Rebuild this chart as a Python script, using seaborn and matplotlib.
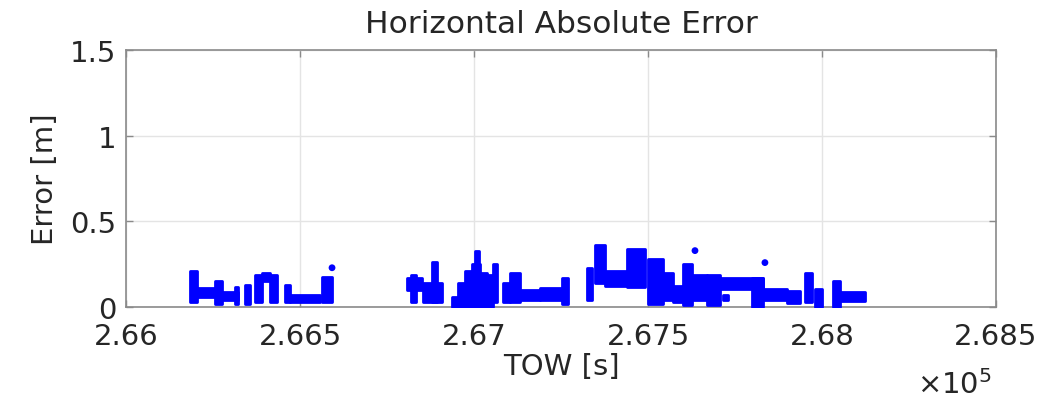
import matplotlib
matplotlib.use("Agg")
import matplotlib.pyplot as plt
import seaborn as sns

# ---- data (TOW [s], horizontal error [m]) ----
# dense runs of epochs summarised as blocks: start TOW, end TOW, min error, max error
blk_t0 = [266184, 266204, 266256, 266276, 266313, 266342, 266371, 266391, 266414,
          266457, 266471, 266563,
          266819, 266807, 266853, 266879, 266937, 266954, 266974, 266994, 267003,
          267017, 267037, 267055, 267083, 267103, 267132, 267190, 267253,
          267325, 267348, 267376, 267440, 267500, 267543, 267572, 267601, 267626,
          267670, 267707, 267716, 267799, 267830, 267899, 267951, 267980, 268032,
          268052]
blk_t1 = [266204, 266256, 266276, 266322, 266322, 266356, 266391, 266414, 266434,
          266471, 266558, 266592,
          266833, 266850, 266908, 266894, 266954, 266974, 266994, 267017, 267014,
          267037, 267055, 267066, 267103, 267132, 267190, 267253, 267270,
          267339, 267376, 267440, 267491, 267543, 267572, 267601, 267626, 267670,
          267707, 267830, 267730, 267830, 267899, 267937, 267971, 268000, 268052,
          268124]
blk_lo = [0.03, 0.06, 0.02, 0.04, 0.02, 0.02, 0.03, 0.15, 0.03,
          0.03, 0.03, 0.03,
          0.03, 0.10, 0.03, 0.03, 0.00, 0.00, 0.00, 0.00, 0.00,
          0.00, 0.00, 0.03, 0.03, 0.03, 0.04, 0.04, 0.02,
          0.04, 0.14, 0.125, 0.115, 0.02, 0.04, 0.03, 0.01, 0.04,
          0.01, 0.105, 0.04, 0.00, 0.04, 0.027, 0.03, 0.00, 0.00,
          0.037]
blk_hi = [0.21, 0.11, 0.15, 0.09, 0.12, 0.13, 0.19, 0.20, 0.19,
          0.13, 0.07, 0.175,
          0.19, 0.17, 0.14, 0.265, 0.06, 0.14, 0.21, 0.25, 0.33,
          0.20, 0.19, 0.25, 0.14, 0.20, 0.10, 0.11, 0.17,
          0.23, 0.36, 0.21, 0.34, 0.28, 0.20, 0.125, 0.25, 0.19,
          0.19, 0.17, 0.07, 0.17, 0.105, 0.095, 0.20, 0.105, 0.154,
          0.086]

# isolated epochs
dot_tow = [266592, 267635, 267836]
dot_err = [0.23, 0.33, 0.26]

xtick_tow = [266000, 266500, 267000, 267500, 268000, 268500]
xtick_lbl = ["2.66", "2.665", "2.67", "2.675", "2.68", "2.685"]
ytick_val = [0, 0.5, 1, 1.5]
ytick_lbl = ["0", "0.5", "1", "1.5"]

# ---- styling ----
sns.set_theme(style="whitegrid")
plt.rcParams["font.family"] = ["DejaVu Sans"]
plt.rcParams["mathtext.fontset"] = "dejavusans"

BLUE = "#0000ff"
TXT = "#262626"

fig = plt.figure(figsize=(10.59, 4.06), dpi=100)
ax = fig.add_axes([0.119, 0.241, 0.8215, 0.633])
ax.set_facecolor("white")

for t0, t1, lo, hi in zip(blk_t0, blk_t1, blk_lo, blk_hi):
    ax.fill_between([t0, t1], [lo, lo], [hi, hi], color=BLUE, linewidth=2.0,
                    joinstyle="round", zorder=3)

sns.scatterplot(x=dot_tow, y=dot_err, ax=ax, color=BLUE, s=24,
                edgecolor="none", zorder=4)

ax.set_xlim(266000, 268500)
ax.set_ylim(0, 1.5)
ax.set_xticks(xtick_tow)
ax.set_xticklabels(xtick_lbl)
ax.set_yticks(ytick_val)
ax.set_yticklabels(ytick_lbl)

ax.grid(True, color="#e4e4e4", linewidth=1.0)
for sp in ax.spines.values():
    sp.set_visible(True)
    sp.set_color("#8a8a8a")
    sp.set_linewidth(1.2)

ax.tick_params(axis="both", which="major", direction="in", length=5, width=1,
               color="#8a8a8a", labelsize=21, labelcolor=TXT,
               top=True, right=True, bottom=True, left=True)
ax.tick_params(axis="x", pad=11)
ax.tick_params(axis="y", pad=7)

ax.set_title("Horizontal Absolute Error", fontsize=22.5, color=TXT, pad=13)
ax.set_xlabel("TOW [s]", fontsize=21, color=TXT, labelpad=1)
ax.set_ylabel("Error [m]", fontsize=21, color=TXT, labelpad=8)

ax.text(0.995, -0.30, r"$\times10^{5}$", transform=ax.transAxes, ha="right",
        va="center", fontsize=21, color=TXT)

fig.savefig("out.png", dpi=100, facecolor="white")
